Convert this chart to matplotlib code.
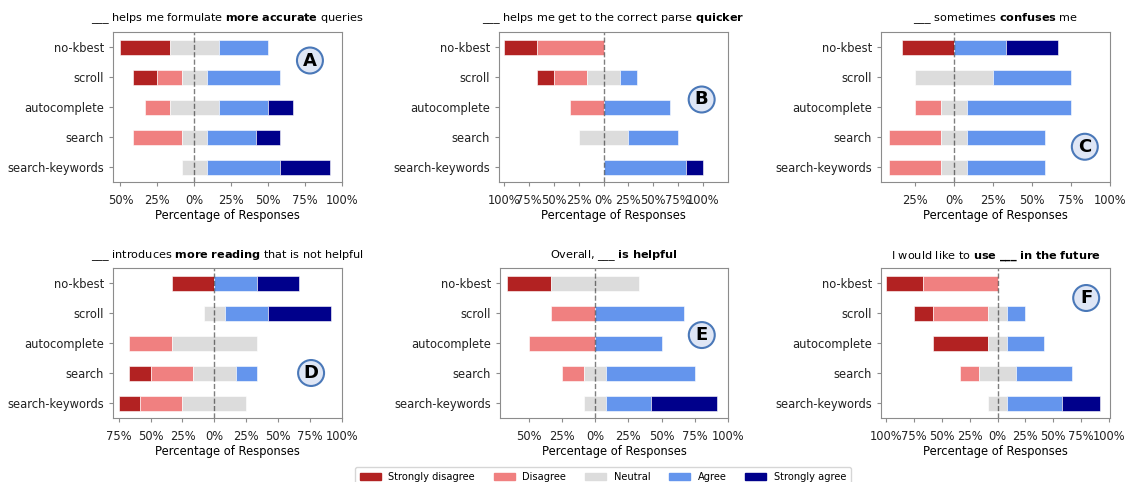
import matplotlib.pyplot as plt
from matplotlib.patches import Patch

# question rows, top to bottom
conditions = ['no-kbest', 'scroll', 'autocomplete', 'search', 'search-keywords']
levels = ['Strongly disagree', 'Disagree', 'Neutral', 'Agree', 'Strongly agree']
level_colors = ['firebrick', 'lightcoral', 'gainsboro', 'cornflowerblue', 'darkblue']

# percentages per condition: [SD, D, N, A, SA]
accurate = [[33.3, 0, 33.3, 33.3, 0],
            [16.7, 16.7, 16.7, 50, 0],
            [0, 16.7, 33.3, 33.3, 16.7],
            [0, 33.3, 16.7, 33.3, 16.7],
            [0, 0, 16.7, 50, 33.3]]
quicker = [[33.3, 66.7, 0, 0, 0],
           [16.7, 33.3, 33.3, 16.7, 0],
           [0, 33.3, 0, 66.7, 0],
           [0, 0, 50, 50, 0],
           [0, 0, 0, 83.3, 16.7]]
confuses = [[33.3, 0, 0, 33.3, 33.3],
            [0, 0, 50, 50, 0],
            [0, 16.7, 16.7, 66.7, 0],
            [0, 33.3, 16.7, 50, 0],
            [0, 33.3, 16.7, 50, 0]]
reading = [[33.3, 0, 0, 33.3, 33.3],
           [0, 0, 16.7, 33.3, 50],
           [0, 33.3, 66.7, 0, 0],
           [16.7, 33.3, 33.3, 16.7, 0],
           [16.7, 33.3, 50, 0, 0]]
helpful = [[33.3, 0, 66.7, 0, 0],
           [0, 33.3, 0, 66.7, 0],
           [0, 50, 0, 50, 0],
           [0, 16.7, 16.7, 66.7, 0],
           [0, 0, 16.7, 33.3, 50]]
future = [[33.3, 66.7, 0, 0, 0],
          [16.7, 50, 16.7, 16.7, 0],
          [50, 0, 16.7, 33.3, 0],
          [0, 16.7, 33.3, 50, 0],
          [0, 0, 16.7, 50, 33.3]]

titles = [r'___ helps me formulate $\bf{more\ accurate}$ queries',
          r'___ helps me get to the correct parse $\bf{quicker}$',
          r'___ sometimes $\bf{confuses}$ me',
          r'___ introduces $\bf{more\ reading}$ that is not helpful',
          r'Overall, ___ $\bf{is\ helpful}$',
          r'I would like to $\bf{use\ \_\_\_\ in\ the\ future}$']
letters = ['A', 'B', 'C', 'D', 'E', 'F']
panels = [accurate, quicker, confuses, reading, helpful, future]

W, H = 1128, 482
fig = plt.figure(figsize=(W / 100, H / 100), dpi=100)

# axes boxes in pixels: left, top, right, bottom
boxes = [(113, 32, 342, 182), (499, 32, 728, 182), (881, 32, 1110, 182),
         (113, 268, 342, 418), (500, 268, 728, 418), (881, 268, 1110, 418)]
xlims = [(-55, 100), (-105, 125), (-46.7, 100), (-79.4, 100), (-71.7, 100), (-104.6, 101)]
badge_pos = [(0.86, 0.81), (0.885, 0.55), (0.89, 0.235),
             (0.865, 0.30), (0.885, 0.553), (0.896, 0.80)]
title_pads = [8, 8, 8, 7, 7, 7]

fs = 8.3
grey = '#8c8c8c'

for i, data in enumerate(panels):
    l, t, r, b = boxes[i]
    ax = fig.add_axes([l / W, 1 - b / H, (r - l) / W, (b - t) / H])
    for row, vals in enumerate(data):
        start = -(vals[0] + vals[1] + vals[2] / 2)
        for k, v in enumerate(vals):
            if v > 0:
                ax.barh(row, v, left=start, height=0.5, color=level_colors[k],
                        edgecolor='white', linewidth=0.4)
            start += v
    ax.axvline(0, linestyle='--', color='black', alpha=0.5, linewidth=1)
    ax.set_ylim(4.5, -0.5)
    ax.set_yticks(range(len(conditions)))
    ax.set_yticklabels(conditions, fontsize=fs)
    lo, hi = xlims[i]
    ticks = [x for x in range(-100, 101, 25) if lo <= x <= hi]
    ax.set_xlim(lo, hi)
    ax.set_xticks(ticks)
    ax.set_xticklabels(['%d%%' % abs(x) for x in ticks], fontsize=fs)
    ax.set_xlabel('Percentage of Responses', fontsize=fs, labelpad=1.5)
    ax.set_title(titles[i], fontsize=8.1, pad=title_pads[i])
    for s in ax.spines.values():
        s.set_color(grey)
    ax.tick_params(colors='#222222', length=3, width=0.8)
    ax.tick_params(axis='both', color=grey)
    ax.tick_params(axis='x', pad=5.5)
    bx, by = badge_pos[i]
    ax.text(bx, by, letters[i], transform=ax.transAxes, ha='center', va='center',
            fontsize=13, fontweight='bold',
            bbox=dict(boxstyle='circle,pad=0.22', fc='#dfe6f5', ec='#4a78b8', lw=1.5))

handles = [Patch(color=c, label=lv) for c, lv in zip(level_colors, levels)]
fig.legend(handles=handles, loc='lower center', bbox_to_anchor=(603 / W, -0.021),
           ncol=5, fontsize=7.1, frameon=True, handlelength=2.1, columnspacing=1.9,
           handleheight=0.7, handletextpad=0.8, borderpad=0.5)

fig.savefig('out.png', dpi=100)
